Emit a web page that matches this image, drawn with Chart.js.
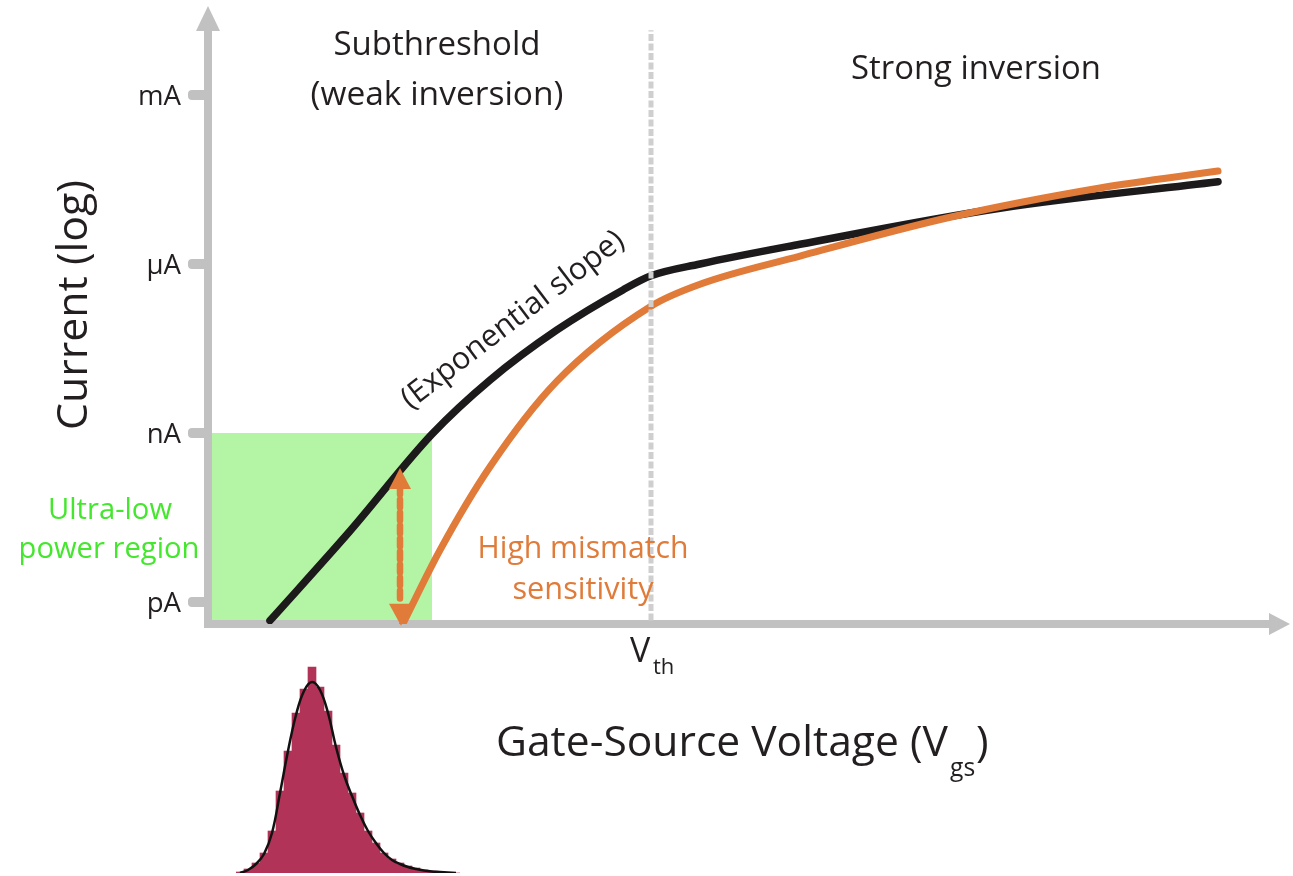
<!DOCTYPE html>
<html><head><meta charset="utf-8">
<script src="https://cdn.jsdelivr.net/npm/chart.js@4/dist/chart.umd.min.js"></script>
<style>
html,body{margin:0;padding:0;background:#fff;overflow:hidden;}
#wrap{position:relative;width:1293px;height:876px;}
#main{position:absolute;left:0;top:0;}
#hist{position:absolute;left:236px;top:657px;}
</style></head><body>
<div id="wrap">
<canvas id="main" width="1293" height="876"></canvas>
<canvas id="hist" width="224" height="219"></canvas>
</div>
<script>
// ---------- data ----------
const tickValues = [-12, -9, -6, -3];            // log10(I / A)
const tickLabels = ['pA', 'nA', 'µA', 'mA'];
const idealVgs   = [0.060, 0.140, 0.222, 0.280, 0.347, 0.413, 0.441, 0.490, 0.590, 0.790, 1.008];
const idealLogI  = [-12.33, -10.74, -9.02, -8.06, -7.17, -6.46, -6.21, -6.00, -5.65, -5.01, -4.54];
const mismatchVgs  = [0.192, 0.230, 0.280, 0.347, 0.441, 0.490, 0.590, 0.740, 0.890, 1.008];
const mismatchLogI = [-12.42, -11.08, -9.60, -8.08, -6.75, -6.36, -5.86, -5.17, -4.65, -4.35];
const vth = 0.441;
const vthLineLogI = [-12.33, -1.85];
const ulpVgs  = [0.002, 0.222];
const ulpLogI = [-9, -9];
const ulpFloorLogI = -12.32;
const arrowVgs = 0.190;
const arrowLogI = [-9.62, -12.42];
const histBins   = ['240','248','256','264','272','280','288','296','304','312','320','328','336','344','352','360','368','376','384','392','400','408','416','424','432','440','448','456'];
const histCounts = [1,4,10,20,42,82,122,160,184,206,186,162,128,100,80,60,42,30,20,14,10,7,5,3,2,1,0,0];
const histFit    = [0,3,9,19,40,80,122,158,182,191,183,160,126,98,77,58,42,30,20,13,9,6,4,2.5,1.5,1,0.5,0];

// ---------- style ----------
const FONT = '"Open Sans", "Noto Sans", sans-serif';
const TXT = '#231f20';
const ORANGE = '#e07b39';
const AXIS = '#c1c1c1';
const GREEN_FILL = '#b4f5a5';
const GREEN_TXT = '#45e62e';

const pts = (xs, ys) => xs.map((v, i) => ({x: v, y: ys[i]}));

function fitSize(ctx, text, w){
  ctx.font = '100px ' + FONT;
  return 100 * w / ctx.measureText(text).width;
}
function drawFit(ctx, text, cx, cy, w, color, rot){
  const s = fitSize(ctx, text, w);
  ctx.save();
  ctx.translate(cx, cy);
  if (rot) ctx.rotate(rot);
  ctx.font = s.toFixed(2) + 'px ' + FONT;
  ctx.fillStyle = color;
  ctx.textAlign = 'center';
  ctx.textBaseline = 'middle';
  ctx.fillText(text, 0, 0);
  ctx.restore();
}

const axesPlugin = {
  id: 'axesPlugin',
  beforeDatasetsDraw(chart){
    const {ctx, chartArea: a, scales: {y}} = chart;
    ctx.save();
    ctx.strokeStyle = AXIS; ctx.fillStyle = AXIS; ctx.lineWidth = 8;
    // y axis
    ctx.beginPath(); ctx.moveTo(a.left, a.bottom + 4); ctx.lineTo(a.left, a.top + 22); ctx.stroke();
    ctx.beginPath(); ctx.moveTo(a.left, a.top); ctx.lineTo(a.left - 12, a.top + 25); ctx.lineTo(a.left + 12, a.top + 25); ctx.closePath(); ctx.fill();
    // x axis
    ctx.beginPath(); ctx.moveTo(a.left - 4, a.bottom); ctx.lineTo(a.right - 18, a.bottom); ctx.stroke();
    ctx.beginPath(); ctx.moveTo(a.right, a.bottom); ctx.lineTo(a.right - 21, a.bottom - 11); ctx.lineTo(a.right - 21, a.bottom + 11); ctx.closePath(); ctx.fill();
    // ticks + labels
    tickValues.forEach((v, i) => {
      const py = y.getPixelForValue(v);
      ctx.fillStyle = AXIS;
      ctx.beginPath();
      ctx.roundRect(a.left - 20, py - 5, 22, 10, 4);
      ctx.fill();
      ctx.fillStyle = TXT;
      ctx.font = fitSize(ctx, 'mA', 43).toFixed(2) + 'px ' + FONT;
      ctx.textAlign = 'right'; ctx.textBaseline = 'middle';
      ctx.fillText(tickLabels[i], a.left - 27, py + 2);
    });
    ctx.restore();
  },
  afterDatasetsDraw(chart){
    const {ctx, scales: {x, y}} = chart;
    const ax = x.getPixelForValue(arrowVgs);
    const yT = y.getPixelForValue(arrowLogI[0]);
    const yB = y.getPixelForValue(arrowLogI[1]);
    ctx.save();
    ctx.fillStyle = ORANGE;
    ctx.beginPath(); ctx.moveTo(ax, yT); ctx.lineTo(ax - 11, yT + 21); ctx.lineTo(ax + 11, yT + 21); ctx.closePath(); ctx.fill();
    ctx.beginPath(); ctx.moveTo(ax + 1, yB); ctx.lineTo(ax - 11, yB - 22); ctx.lineTo(ax + 13, yB - 22); ctx.closePath(); ctx.fill();
    ctx.restore();
  },
  afterDraw(chart){
    const ctx = chart.ctx;
    drawFit(ctx, 'Subthreshold', 437, 46, 207, TXT);
    drawFit(ctx, '(weak inversion)', 437, 95, 253, TXT);
    drawFit(ctx, 'Strong inversion', 976, 70, 250, TXT);
    drawFit(ctx, 'Current (log)', 75, 305, 250, TXT, -Math.PI / 2);
    drawFit(ctx, 'Ultra-low', 110, 511, 124, GREEN_TXT);
    drawFit(ctx, 'power region', 109, 550, 181, GREEN_TXT);
    drawFit(ctx, 'High mismatch', 583, 549, 211, ORANGE);
    drawFit(ctx, 'sensitivity', 583, 590, 141, ORANGE);
    drawFit(ctx, '(Exponential slope)', 513, 320, 272, TXT, -37.5 * Math.PI / 180);
    // V_th
    ctx.save();
    ctx.fillStyle = TXT; ctx.textBaseline = 'alphabetic'; ctx.textAlign = 'left';
    ctx.font = '34px ' + FONT; ctx.fillText('V', 630, 662);
    ctx.font = '22px ' + FONT; ctx.fillText('th', 653, 674);
    // Gate-Source Voltage (V_gs)
    const main = 'Gate-Source Voltage (V';
    const s = fitSize(ctx, main, 452);
    ctx.font = s.toFixed(2) + 'px ' + FONT;
    ctx.textBaseline = 'alphabetic';
    ctx.fillText(main, 496, 756);
    ctx.font = (s * 0.58).toFixed(2) + 'px ' + FONT;
    ctx.fillText('gs', 950, 776);
    ctx.font = s.toFixed(2) + 'px ' + FONT;
    ctx.fillText(')', 976, 756);
    ctx.restore();
  }
};

new Chart(document.getElementById('main'), {
  type: 'scatter',
  data: {
    datasets: [
      { label: 'Vth', data: pts([vth, vth], vthLineLogI), showLine: true, borderColor: '#cfcfcf', borderWidth: 5, borderDash: [7, 2.5], pointRadius: 0, order: 0 },
      { label: 'Mismatched device', data: pts(mismatchVgs, mismatchLogI), showLine: true, borderColor: ORANGE, borderWidth: 7, borderCapStyle: 'round', borderJoinStyle: 'round', cubicInterpolationMode: 'monotone', pointRadius: 0, order: 1 },
      { label: 'Nominal device', data: pts(idealVgs, idealLogI), showLine: true, borderColor: '#1c1a1b', borderWidth: 7.5, borderCapStyle: 'round', borderJoinStyle: 'round', cubicInterpolationMode: 'monotone', pointRadius: 0, order: 2 },
      { label: 'Mismatch', data: pts([arrowVgs, arrowVgs], [arrowLogI[0] - 0.33, arrowLogI[1] + 0.4]), showLine: true, borderColor: ORANGE, borderWidth: 6.5, borderDash: [8, 5], borderCapStyle: 'round', pointRadius: 0, order: 3 },
      { label: 'Ultra-low power', data: pts(ulpVgs, ulpLogI), showLine: true, borderWidth: 0, borderColor: 'rgba(0,0,0,0)', backgroundColor: GREEN_FILL, fill: {value: ulpFloorLogI}, pointRadius: 0, order: 4 }
    ]
  },
  options: {
    responsive: false, animation: false, devicePixelRatio: 1,
    layout: { padding: { left: 208, right: 3, top: 6, bottom: 252 } },
    plugins: { legend: { display: false }, tooltip: { enabled: false } },
    scales: {
      x: { type: 'linear', min: -0.002, max: 1.080, display: false },
      y: { type: 'linear', min: -12.3905, max: -1.420, display: false }
    }
  },
  plugins: [axesPlugin]
});

new Chart(document.getElementById('hist'), {
  type: 'bar',
  data: {
    labels: histBins,
    datasets: [
      { type: 'line', data: histFit, borderColor: '#111', borderWidth: 2.5, pointRadius: 0, tension: 0.4, order: 0 },
      { type: 'bar', data: histCounts, backgroundColor: '#b23358', categoryPercentage: 1, barPercentage: 1, order: 1 }
    ]
  },
  options: {
    responsive: false, animation: false, devicePixelRatio: 1,
    layout: { padding: { left: 0, right: 0, top: 0, bottom: 3 } },
    plugins: { legend: { display: false }, tooltip: { enabled: false } },
    scales: {
      x: { display: false },
      y: { display: false, min: 0, max: 216 }
    }
  }
});
</script>
</body></html>
